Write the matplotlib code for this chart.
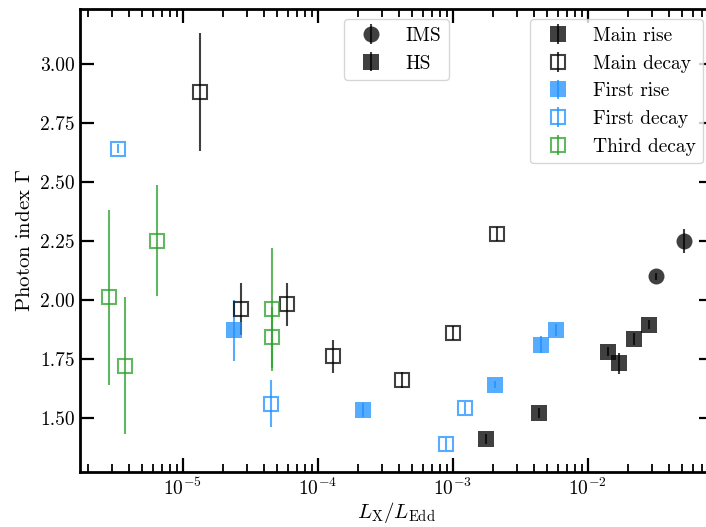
import numpy as np
import matplotlib
matplotlib.use("Agg")
import matplotlib.pyplot as plt

plt.rcParams['font.family'] = 'serif'
plt.rcParams['font.serif'] = ['cmr10', 'DejaVu Serif']
plt.rcParams['mathtext.fontset'] = 'cm'
plt.rcParams['axes.formatter.use_mathtext'] = True
plt.rcParams['font.size'] = 14

# main outburst, rise (hard state)
mr_x = [1.75e-3, 4.38e-3, 1.41e-2, 1.71e-2, 2.2e-2, 2.85e-2]
mr_y = [1.41, 1.52, 1.78, 1.73, 1.835, 1.895]
mr_e = [0.02, 0.02, 0.02, 0.045, 0.025, 0.02]
# main outburst, rise (intermediate state)
mri_x = [3.2e-2, 5.16e-2]
mri_y = [2.10, 2.25]
mri_e = [0.015, 0.05]
# main outburst, decay
md_x = [1.34e-5, 2.7e-5, 5.93e-5, 1.30e-4, 4.2e-4, 1.01e-3, 2.14e-3]
md_y = [2.88, 1.96, 1.98, 1.76, 1.66, 1.86, 2.28]
md_e = [0.25, 0.11, 0.09, 0.07, 0.035, 0.03, 0.03]
# first outburst
fr_x = [2.4e-5, 2.17e-4, 2.07e-3, 4.52e-3, 5.83e-3]
fr_y = [1.87, 1.534, 1.64, 1.81, 1.873]
fr_e = [0.13, 0.03, 0.015, 0.035, 0.025]
fd_x = [3.32e-6, 4.53e-5, 8.98e-4, 1.23e-3]
fd_y = [2.64, 1.56, 1.39, 1.542]
fd_e = [0.02, 0.1, 0.025, 0.025]
# third outburst, decay
td_x = [2.83e-6, 3.71e-6, 6.45e-6, 4.59e-5, 4.55e-5]
td_y = [2.01, 1.72, 2.25, 1.96, 1.84]
td_e = [0.37, 0.29, 0.235, 0.26, 0.13]

fig = plt.figure(figsize=(7.06, 5.27), dpi=100)
ax = fig.add_axes([0.1133, 0.1044, 0.8966, 0.8776])

a = 0.75
grey = 'k'
blue = 'dodgerblue'
green = 'tab:green'

def draw(x, y, e, c, marker, filled, label=None):
    if filled:
        return ax.errorbar(x, y, yerr=e, fmt=marker, ms=11.5, color=c, ecolor=c,
                           mfc=c, mew=0, elinewidth=1.5, alpha=a, ls='none',
                           label=label)
    return ax.errorbar(x, y, yerr=e, fmt=marker, ms=10.5, color=c, ecolor=c,
                       mfc='none', mec=c, mew=1.5, elinewidth=1.5, alpha=a,
                       ls='none', label=label)

draw(mr_x, mr_y, mr_e, grey, 's', True)
draw(mri_x, mri_y, mri_e, grey, 'o', True)
draw(md_x, md_y, md_e, grey, 's', False)
draw(fr_x, fr_y, fr_e, blue, 's', True)
draw(fd_x, fd_y, fd_e, blue, 's', False)
draw(td_x, td_y, td_e, green, 's', False)

nan = [np.nan]
h_ims = draw(nan, nan, nan, grey, 'o', True, 'IMS')
h_hs = draw(nan, nan, nan, grey, 's', True, 'HS')
h_mr = draw(nan, nan, nan, grey, 's', True, 'Main rise')
h_md = draw(nan, nan, nan, grey, 's', False, 'Main decay')
h_fr = draw(nan, nan, nan, blue, 's', True, 'First rise')
h_fd = draw(nan, nan, nan, blue, 's', False, 'First decay')
h_td = draw(nan, nan, nan, green, 's', False, 'Third decay')

ax.set_xscale('log')
ax.set_xlim(1.73e-6, 8.48e-2)
ax.set_ylim(1.27, 3.23)
ax.set_yticks([1.50, 1.75, 2.00, 2.25, 2.50, 2.75, 3.00])
ax.yaxis.set_major_formatter(matplotlib.ticker.FormatStrFormatter('%.2f'))

ax.set_xlabel(r'$L_{\rm X}/L_{\rm Edd}$', fontsize=15, labelpad=1)
ax.set_ylabel(r'Photon index $\Gamma$', fontsize=15)

for s in ax.spines.values():
    s.set_linewidth(2)
ax.tick_params(which='both', direction='in', top=True, right=True)
ax.tick_params(which='major', length=10, width=1.6, labelsize=14, pad=4)
ax.tick_params(which='minor', length=5.5, width=1.3)

leg1 = ax.legend(handles=[h_ims, h_hs], loc='upper center', fontsize=14)
ax.add_artist(leg1)
ax.legend(handles=[h_mr, h_md, h_fr, h_fd, h_td], loc='upper right', fontsize=14)

fig.savefig('out.png', dpi=100)
